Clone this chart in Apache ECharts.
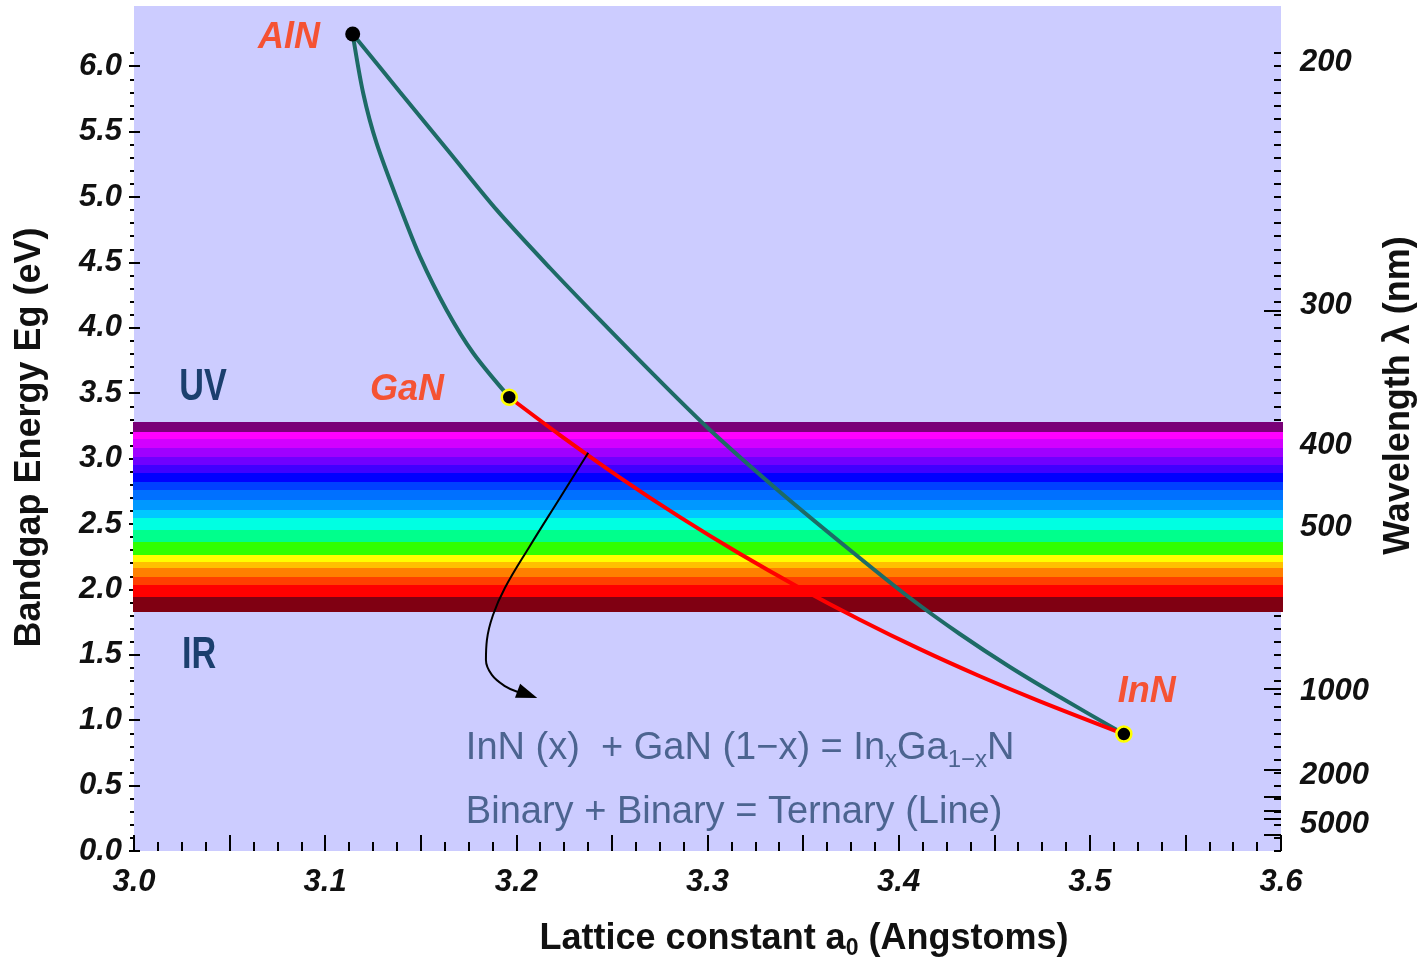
<!DOCTYPE html>
<html><head><meta charset="utf-8">
<script src="https://cdn.jsdelivr.net/npm/echarts@6/dist/echarts.min.js"></script>
<style>html,body{margin:0;padding:0;background:#fff}#c{width:1424px;height:957px}</style>
</head><body><div id="c"></div>
<script>
// ---------- axes ----------
const xMin = 3.0, xMax = 3.6;
const yMin = 0, yMax = 6.46;
const energyTicks = [0, 0.5, 1.0, 1.5, 2.0, 2.5, 3.0, 3.5, 4.0, 4.5, 5.0, 5.5, 6.0];
const energyMinorTicks = [];
for (let i = 0; i <= 61; i++) energyMinorTicks.push(i / 10);
// right axis (wavelength) — label text and the energy at which each label sits
const wavelengthLabels = ['200', '300', '400', '500', '1000', '2000', '5000'];
const wavelengthLabelEnergy = [6.03, 4.17, 3.10, 2.47, 1.22, 0.58, 0.20];
const wavelengthMajorTicks = [300, 400, 500, 1000, 2000, 3000, 4000, 5000, 10000];
const wavelengthMajorEnergy = wavelengthMajorTicks.map(l => 1240 / l);

// ---------- visible spectrum bands: [lowEnergy, highEnergy] ----------
const bandLow  = [3.206, 3.148, 3.079, 3.015, 2.951, 2.888, 2.823, 2.760, 2.683, 2.607, 2.544, 2.454, 2.365, 2.263, 2.212, 2.161, 2.097, 2.034, 1.944, 1.830];
const bandHigh = [3.282, 3.206, 3.148, 3.079, 3.015, 2.951, 2.888, 2.823, 2.760, 2.683, 2.607, 2.544, 2.454, 2.365, 2.263, 2.212, 2.161, 2.097, 2.034, 1.944];
const bandColors = ['#7a0078', '#ff00ff', '#d200ff', '#a000ff', '#7000ff', '#4000ff', '#0000ff', '#0040ff', '#0070ff', '#0098ff',
                    '#00c8ff', '#00ffe2', '#00ff8c', '#30ff00', '#ffff00', '#ffc000', '#ff8000', '#ff4000', '#ff0000', '#800012'];

// ---------- curves (lattice constant Å, bandgap eV) ----------
const alnGanCurve = [[3.1144, 6.246], [3.1199, 5.793], [3.1269, 5.411], [3.1391, 4.926], [3.1496, 4.544], [3.1635, 4.136], [3.1775, 3.805], [3.1963, 3.469]];
const alnInnCurve = [[3.1144, 6.246], [3.1391, 5.803], [3.1653, 5.336], [3.1897, 4.901], [3.2176, 4.457], [3.2437, 4.060], [3.2725, 3.632], [3.3013, 3.219],
                     [3.3379, 2.745], [3.3745, 2.301], [3.4059, 1.934], [3.4320, 1.659], [3.4582, 1.407], [3.4843, 1.177], [3.5178, 0.894]];
const ganInnCurve = [[3.1963, 3.469], [3.2228, 3.180], [3.2542, 2.855], [3.2856, 2.552], [3.3169, 2.272], [3.3483, 2.011], [3.3797, 1.768],
                     [3.4111, 1.543], [3.4425, 1.336], [3.4739, 1.144], [3.5178, 0.894]];
const arrowPath = [[3.2376, 3.045], [3.2228, 2.699], [3.2071, 2.332], [3.1940, 2.011], [3.1878, 1.804], [3.1846, 1.613], [3.1841, 1.460],
                   [3.1872, 1.346], [3.1940, 1.261], [3.2008, 1.216]];
const arrowHead = [3.2058, 1.198];

// ---------- binaries ----------
const binaryNames = ['AlN', 'GaN', 'InN'];
const binaryPoints = [[3.1144, 6.246], [3.1963, 3.469], [3.5178, 0.894]];
const binaryLabelPos = [[3.0811, 6.216], [3.1428, 3.524], [3.5298, 1.216]];

// ---------- other annotations ----------
const regionNames = ['UV', 'IR'];
const regionLabelPos = [[3.0361, 3.540], [3.0340, 1.491]];
const eqLines = ['{m|InN (x)  + GaN (1\u2212x) = In}{s|x}{m|Ga}{s|1\u2212x}{m|N}', '{m|Binary + Binary = Ternary (Line)}'];
const eqLinePos = [[3.1736, 0.787], [3.1736, 0.298]];

const FONT = 'Liberation Sans, Arial, sans-serif';
const tickLabelStyle = {fontFamily: FONT, fontSize: 31, fontWeight: 'bold', fontStyle: 'italic', color: '#111'};
const nameStyle = {fontFamily: FONT, fontSize: 36, fontWeight: 'bold', color: '#111'};
const tickLine = {color: '#000', width: 2};

function yAxisBase(pos) {
  return {type: 'value', min: yMin, max: yMax, position: pos, axisLine: {show: false}, splitLine: {show: false},
          axisLabel: {show: false}, axisTick: {show: false}};
}

const chart = echarts.init(document.getElementById('c'), null, {renderer: 'canvas'});
chart.setOption({
  animation: false,
  grid: {left: 134, top: 6, width: 1147, height: 845, show: true, backgroundColor: '#ccccff', borderWidth: 0,
         containLabel: false, outerBoundsMode: 'none'},
  xAxis: [{
    type: 'value', min: xMin, max: xMax, interval: 0.05, position: 'bottom',
    axisLine: {show: false}, splitLine: {show: false},
    axisTick: {show: true, inside: true, length: 16, lineStyle: tickLine},
    minorTick: {show: true, splitNumber: 4, length: 9, lineStyle: tickLine},
    axisLabel: Object.assign({margin: 16, formatter: v => (Math.round(v * 20) % 2 === 0 ? v.toFixed(1) : '')}, tickLabelStyle),
    name: 'Lattice constant a{sub|0} (Angstoms)', nameLocation: 'middle', nameGap: 68,
    nameTextStyle: Object.assign({padding: [0, 0, 0, 193],
      rich: {sub: {fontFamily: FONT, fontSize: 23, fontWeight: 'bold', color: '#111', padding: [18, 0, 0, 0]}}}, nameStyle)
  }],
  yAxis: [
    Object.assign(yAxisBase('left'), {
      axisTick: {show: true, customValues: energyTicks, inside: false, length: 5, lineStyle: tickLine},
      axisLabel: Object.assign({show: true, customValues: energyTicks, margin: 12, formatter: v => v.toFixed(1)}, tickLabelStyle),
      name: 'Bandgap Energy Eg (eV)', nameLocation: 'middle', nameGap: 86, nameRotate: 90,
      nameTextStyle: Object.assign({padding: [0, 18, 0, 0]}, nameStyle)
    }),
    Object.assign(yAxisBase('left'), {axisTick: {show: true, customValues: energyMinorTicks, inside: false, length: 4, lineStyle: tickLine}}),
    Object.assign(yAxisBase('left'), {axisTick: {show: true, customValues: energyTicks, inside: true, length: 6, lineStyle: tickLine}}),
    Object.assign(yAxisBase('right'), {axisTick: {show: true, customValues: energyMinorTicks, inside: true, length: 7, lineStyle: tickLine}}),
    Object.assign(yAxisBase('right'), {
      axisTick: {show: true, customValues: wavelengthMajorEnergy, inside: true, length: 17, lineStyle: tickLine},
      axisLabel: Object.assign({show: true, customValues: wavelengthLabelEnergy, margin: 19, align: 'left',
        formatter: v => {
          let best = 0;
          wavelengthLabelEnergy.forEach((e, i) => { if (Math.abs(e - v) < Math.abs(wavelengthLabelEnergy[best] - v)) best = i; });
          return wavelengthLabels[best];
        }}, tickLabelStyle),
      name: 'Wavelength \u03bb (nm)', nameLocation: 'middle', nameGap: 100, nameRotate: 90,
      nameTextStyle: Object.assign({padding: [0, 0, 0, 66]}, nameStyle)
    })
  ],
  series: [
    {
      type: 'custom', name: 'spectrum', silent: true, z: 1,
      data: bandLow.map((lo, i) => [xMin, lo, bandHigh[i]]),
      encode: {x: 0, y: [1, 2]},
      renderItem: (params, api) => {
        const lo = api.value(1), hi = api.value(2);
        const p1 = api.coord([xMin, hi]);
        const p2 = api.coord([xMax, lo]);
        const y1 = Math.round(p1[1]), y2 = Math.round(p2[1]);
        return {type: 'rect', shape: {x: p1[0] - 1, y: y1, width: p2[0] - p1[0] + 3, height: y2 - y1},
                style: {fill: bandColors[params.dataIndex]}};
      }
    },
    {type: 'line', name: 'AlN-GaN', data: alnGanCurve, smooth: 0.3, showSymbol: false, silent: true, z: 3,
     lineStyle: {color: '#1d6b66', width: 4}},
    {type: 'line', name: 'AlN-InN', data: alnInnCurve, smooth: 0.3, showSymbol: false, silent: true, z: 3,
     lineStyle: {color: '#1d6b66', width: 4}},
    {type: 'line', name: 'GaN-InN', data: ganInnCurve, smooth: 0.3, showSymbol: false, silent: true, z: 4,
     lineStyle: {color: '#ff0000', width: 4}},
    {type: 'line', name: 'arrow', data: arrowPath, smooth: 0.4, showSymbol: false, silent: true, z: 5,
     lineStyle: {color: '#000', width: 2}},
    {type: 'scatter', name: 'arrowhead', data: [arrowHead], symbol: 'triangle', symbolSize: [15, 21], symbolRotate: -110,
     silent: true, z: 5, itemStyle: {color: '#000', opacity: 1}},
    {type: 'scatter', name: 'binaries', silent: true, z: 6, symbol: 'circle', symbolSize: 15,
     data: binaryPoints.map((p, i) => ({value: p,
       itemStyle: {color: '#000', opacity: 1, borderColor: i === 0 ? '#000' : '#ffff00', borderWidth: i === 0 ? 0 : 2.5}}))},
    {type: 'scatter', name: 'binaryLabels', silent: true, z: 7, symbolSize: 1, itemStyle: {color: 'rgba(0,0,0,0)'},
     data: binaryLabelPos.map((p, i) => ({value: p, name: binaryNames[i]})),
     label: {show: true, position: 'inside', formatter: '{b}', fontFamily: FONT, fontSize: 36, fontWeight: 'bold', fontStyle: 'italic', color: '#ff3300'}},
    {type: 'scatter', name: 'equations', silent: true, z: 7, symbolSize: 1, itemStyle: {color: 'rgba(0,0,0,0)'},
     data: eqLinePos.map((p, i) => ({value: p, label: {formatter: eqLines[i]}})),
     label: {show: true, position: 'inside', align: 'left', verticalAlign: 'middle',
       rich: {
         m: {fontFamily: FONT, fontSize: 38, color: '#2c4a74'},
         s: {fontFamily: FONT, fontSize: 24, color: '#2c4a74', padding: [25, 0, 0, 0]}
       }}}
  ]
});

// region labels (UV / IR) in a condensed face, positioned through the axes' scales
chart.setOption({
  graphic: regionNames.map((t, i) => {
    const p = chart.convertToPixel({xAxisIndex: 0, yAxisIndex: 0}, regionLabelPos[i]);
    return {type: 'text', x: p[0], y: p[1], scaleX: 0.76, z: 100, silent: true,
            style: {text: t, fontFamily: FONT, fontSize: 45, fontWeight: 'bold', fill: '#1b3f6e',
                    align: 'center', verticalAlign: 'middle'}};
  })
});
</script></body></html>
